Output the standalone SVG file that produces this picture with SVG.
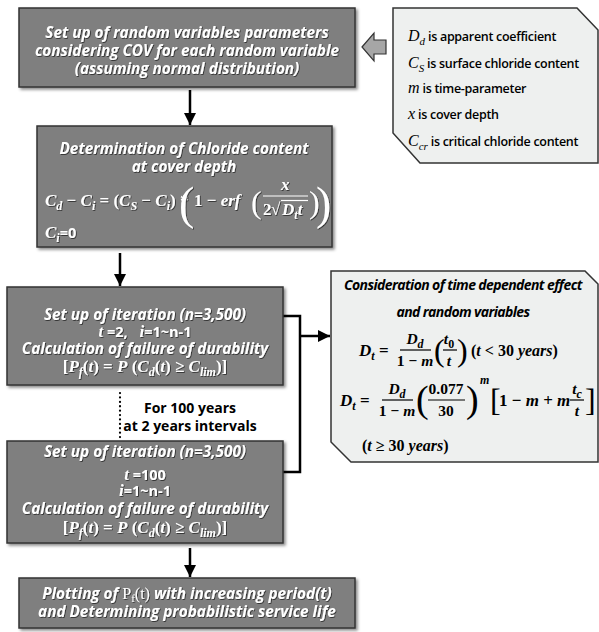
<svg xmlns="http://www.w3.org/2000/svg" width="599" height="632" viewBox="0 0 599 632">
<defs>
<filter id="sh" x="-5%" y="-5%" width="115%" height="125%"><feDropShadow dx="2" dy="2" stdDeviation="1.5" flood-color="#000" flood-opacity="0.45"/></filter>
<filter id="ts" x="-5%" y="-20%" width="110%" height="150%"><feDropShadow dx="0.8" dy="0.8" stdDeviation="0.4" flood-color="#000" flood-opacity="0.7"/></filter>
<marker id="ah" viewBox="0 0 10 10" refX="10" refY="5" markerWidth="5" markerHeight="5" markerUnits="strokeWidth" orient="auto"><path d="M0,0 L10,5 L0,10 z" fill="#000"/></marker>
<style>
.db{fill:#7f7f7f;stroke:#333;stroke-width:1.5;filter:url(#sh)}
.lb{fill:#eef0ef;stroke:#333;stroke-width:1.5}
.wt{font-family:"Open Sans","DejaVu Sans",sans-serif;font-weight:bold;font-style:italic;font-size:15.3px;fill:#fff;text-anchor:middle;filter:url(#ts)}
.mw{font-family:"Liberation Serif",serif;font-weight:bold;font-style:italic;font-size:17px;fill:#fff;filter:url(#ts)}
.mb{font-family:"Liberation Serif",serif;font-weight:bold;font-style:italic;font-size:17px;fill:#000}
.fr{font-size:15.5px}
.up{font-style:normal}
.sb{font-size:12px}
.sw{font-family:"Open Sans","DejaVu Sans",sans-serif;font-weight:bold;font-style:normal;font-size:14.5px}
.bt{font-family:"Open Sans","DejaVu Sans",sans-serif;font-weight:600;font-size:12.5px;letter-spacing:-0.3px;fill:#000}
.mi{font-family:"Liberation Serif",serif;font-style:italic;font-weight:normal;font-size:16px;letter-spacing:0}
.mis{font-family:"Liberation Serif",serif;font-style:italic;font-weight:normal;font-size:11px;letter-spacing:0}
.it{font-family:"Open Sans","DejaVu Sans",sans-serif;font-weight:bold;font-style:italic;font-size:14px;fill:#000;text-anchor:middle;letter-spacing:-0.6px}
.lbl{font-family:"Open Sans","DejaVu Sans",sans-serif;font-weight:bold;font-size:14px;fill:#000;text-anchor:middle}
.cn{fill:none;stroke:#000;stroke-width:2.5}
.p46{font-size:46px;font-weight:normal;font-style:normal}
.p38{font-size:38px;font-weight:normal;font-style:normal}
.p32{font-size:32px;font-weight:normal;font-style:normal}
</style>
</defs>

<g id="connectors">
<line class="cn" x1="190" y1="90" x2="190" y2="125" marker-end="url(#ah)"/>
<line class="cn" x1="120" y1="253" x2="120" y2="286" marker-end="url(#ah)"/>
<polyline class="cn" points="283,316 300,316 300,472 283,472"/>
<line class="cn" x1="300" y1="336" x2="330" y2="336" marker-end="url(#ah)"/>
<line class="cn" x1="190" y1="548" x2="190" y2="577" marker-end="url(#ah)"/>
<line x1="120" y1="393" x2="120" y2="438" stroke="#000" stroke-width="2.2" stroke-dasharray="0.1 4.3" stroke-linecap="round"/>
<polygon points="362,47 374,33 374,40 386,40 386,54 374,54 374,61" fill="#a6a6a6" stroke="#333" stroke-width="1.2"/>
</g>

<g id="n1">
<rect class="db" x="19" y="8" width="336" height="79"/>
<text class="wt" x="187" y="38">Set up of random variables parameters</text>
<text class="wt" x="187" y="56">considering COV for each random variable</text>
<text class="wt" x="187" y="74">(assuming normal distribution)</text>
</g>

<g id="n2">
<rect class="db" x="37" y="126" width="295" height="121"/>
<text class="wt" x="184" y="154">Determination of Chloride content</text>
<text class="wt" x="184" y="172">at cover depth</text>
<text class="mw" x="45" y="206">C<tspan class="sb" dy="4">d</tspan><tspan class="up" dy="-4"> − </tspan>C<tspan class="sb" dy="4">i</tspan><tspan class="up" dy="-4"> = (</tspan>C<tspan class="sb" dy="4">S</tspan><tspan class="up" dy="-4"> − </tspan>C<tspan class="sb" dy="4">i</tspan><tspan class="up" dy="-4">) * </tspan></text>
<text class="mw p46" x="179" y="219">(</text>
<text class="mw" x="194" y="206"><tspan class="up">1 − </tspan>erf</text>
<text class="mw p32" x="251" y="213">(</text>
<text class="mw" x="281" y="190">x</text>
<line x1="263" y1="196" x2="308" y2="196" stroke="#fff" stroke-width="1.2"/>
<text class="mw" x="263" y="215"><tspan class="up">2</tspan></text>
<text class="mw up" x="271" y="215" style="font-weight:normal">√</text>
<line x1="281" y1="200.5" x2="308" y2="200.5" stroke="#fff" stroke-width="1.2"/>
<text class="mw" x="282" y="215">D<tspan class="sb" dy="4">t</tspan><tspan dy="-4">t</tspan></text>
<text class="mw p32" x="309" y="213">)</text>
<text class="mw p46" x="316" y="219">)</text>
<text class="mw" x="45" y="238">C<tspan class="sb" dy="4">i</tspan><tspan class="sw" dy="-4">=0</tspan></text>
</g>

<g id="n3">
<rect class="db" x="7" y="287" width="276" height="98"/>
<text class="wt" x="145" y="320">Set up of iteration (n=3,500)</text>
<text class="mw" x="145" y="337" text-anchor="middle">t<tspan class="sw"> =2, </tspan><tspan dx="8">i</tspan><tspan class="sw">=1~n-1</tspan></text>
<text class="wt" x="145" y="354">Calculation of failure of durability</text>
<text class="mw" x="145" y="372" text-anchor="middle"><tspan class="up">[</tspan>P<tspan class="sb" dy="4">f</tspan><tspan dy="-4" class="up">(</tspan>t<tspan class="up">) = </tspan>P<tspan class="up"> (</tspan>C<tspan class="sb" dy="4">d</tspan><tspan dy="-4" class="up">(</tspan>t<tspan class="up">) ≥ </tspan>C<tspan class="sb" dy="4">lim</tspan><tspan dy="-4" class="up">)]</tspan></text>
</g>

<g id="n_label">
<text class="lbl" x="190" y="413">For 100 years</text>
<text class="lbl" x="190" y="431">at 2 years intervals</text>
</g>

<g id="n4">
<rect class="db" x="7" y="441" width="276" height="102"/>
<text class="wt" x="145" y="457">Set up of iteration (n=3,500)</text>
<text class="mw" x="145" y="480" text-anchor="middle">t<tspan class="sw"> =100</tspan></text>
<text class="mw" x="145" y="496" text-anchor="middle">i<tspan class="sw">=1~n-1</tspan></text>
<text class="wt" x="145" y="514">Calculation of failure of durability</text>
<text class="mw" x="145" y="533" text-anchor="middle"><tspan class="up">[</tspan>P<tspan class="sb" dy="4">f</tspan><tspan dy="-4" class="up">(</tspan>t<tspan class="up">) = </tspan>P<tspan class="up"> (</tspan>C<tspan class="sb" dy="4">d</tspan><tspan dy="-4" class="up">(</tspan>t<tspan class="up">) ≥ </tspan>C<tspan class="sb" dy="4">lim</tspan><tspan dy="-4" class="up">)]</tspan></text>
</g>

<g id="n5">
<rect class="db" x="19" y="578" width="336" height="50"/>
<text class="wt" x="187" y="599">Plotting of <tspan style="font-family:'Liberation Serif',serif;font-style:normal;font-weight:normal;font-size:16px">P<tspan dy="3" style="font-size:11px">f</tspan><tspan dy="-3">(t)</tspan></tspan> with increasing period(t)</text>
<text class="wt" x="187" y="617">and Determining probabilistic service life</text>
</g>

<g id="n6">
<polygon class="lb" points="393,8 577,8 598,30 598,163 420,163 393,133"/>
<text class="bt" x="408" y="41"><tspan class="mi">D</tspan><tspan class="mis" dy="4">d</tspan><tspan dy="-4"> is apparent coefficient</tspan></text>
<text class="bt" x="408" y="68"><tspan class="mi">C</tspan><tspan class="mis" dy="4">S</tspan><tspan dy="-4"> is surface chloride content</tspan></text>
<text class="bt" x="408" y="93"><tspan class="mi">m</tspan> is time-parameter</text>
<text class="bt" x="408" y="119"><tspan class="mi">x</tspan> is cover depth</text>
<text class="bt" x="408" y="146"><tspan class="mi">C</tspan><tspan class="mis" dy="4">cr</tspan><tspan dy="-4"> is critical chloride content</tspan></text>
</g>

<g id="n7">
<polygon class="lb" points="331,271 585,271 598,284 598,462 351,462 331,442"/>
<text class="it" x="463" y="290">Consideration of time dependent effect</text>
<text class="it" x="463" y="317">and random variables</text>
<text class="mb" x="359" y="356">D<tspan class="sb" dy="4">t</tspan><tspan dy="-4" class="up"> =</tspan></text>
<text class="mb fr" x="415" y="344" text-anchor="middle">D<tspan class="sb" dy="4">d</tspan></text>
<line x1="400" y1="350" x2="431" y2="350" stroke="#000" stroke-width="1.2"/>
<text class="mb fr" x="415" y="366" text-anchor="middle"><tspan class="up">1 − </tspan>m</text>
<text class="mb p32" x="434" y="361">(</text>
<text class="mb fr" x="449" y="344" text-anchor="middle">t<tspan class="sb up" dy="4">0</tspan></text>
<line x1="443" y1="350" x2="457" y2="350" stroke="#000" stroke-width="1.2"/>
<text class="mb fr" x="449" y="366" text-anchor="middle">t</text>
<text class="mb p32" x="457" y="361">)</text>
<text class="mb" x="471" y="356" style="font-size:16px"><tspan class="up">(</tspan>t<tspan class="up"> &lt; 30 </tspan>years<tspan class="up">)</tspan></text>
<text class="mb" x="340" y="406">D<tspan class="sb" dy="4">t</tspan><tspan dy="-4" class="up"> =</tspan></text>
<text class="mb fr" x="397" y="394" text-anchor="middle">D<tspan class="sb" dy="4">d</tspan></text>
<line x1="382" y1="400" x2="413" y2="400" stroke="#000" stroke-width="1.2"/>
<text class="mb fr" x="397" y="416" text-anchor="middle"><tspan class="up">1 − </tspan>m</text>
<text class="mb p38" x="416" y="412">(</text>
<text class="mb fr up" x="446" y="394" text-anchor="middle">0.077</text>
<line x1="428" y1="400" x2="465" y2="400" stroke="#000" stroke-width="1.2"/>
<text class="mb fr up" x="446" y="416" text-anchor="middle">30</text>
<text class="mb p38" x="466" y="412">)</text>
<text class="mb sb" x="480" y="384">m</text>
<text class="mb p32" x="490" y="411">[</text>
<text class="mb" x="499" y="406"><tspan class="up">1 − </tspan>m<tspan class="up"> + </tspan>m</text>
<text class="mb fr" x="577" y="394" text-anchor="middle">t<tspan class="sb" dy="4">c</tspan></text>
<line x1="570" y1="400" x2="584" y2="400" stroke="#000" stroke-width="1.2"/>
<text class="mb fr" x="577" y="416" text-anchor="middle">t</text>
<text class="mb p32" x="585" y="411">]</text>
<text class="mb" x="362" y="451" style="font-size:16px"><tspan class="up">(</tspan>t<tspan class="up"> ≥ 30 </tspan>years<tspan class="up">)</tspan></text>
</g>
</svg>
